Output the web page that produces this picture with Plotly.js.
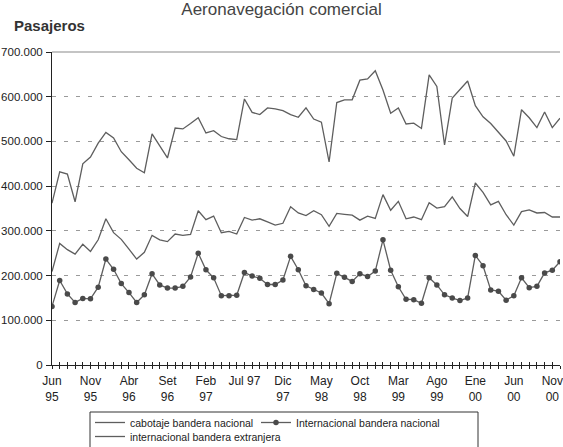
<!DOCTYPE html>
<html>
<head>
<meta charset="utf-8">
<script src="https://cdn.plot.ly/plotly-3.0.1.min.js"></script>
<style>
  html, body { margin: 0; padding: 0; background: #ffffff; }
  #chart { width: 563px; height: 447px; }
</style>
</head>
<body>
<div id="chart"></div>
<script>
// Months Jun 1995 .. Dec 2000 (index 0..66)
const monthNames = ["Ene","Feb","Mar","Abr","May","Jun","Jul","Ago","Set","Oct","Nov","Dic"];
const startMonth = 5;   // Jun
const startYear = 1995;
const nPoints = 67;

// Axis tick labels shown every 5 months
const tickLabels = ["Jun<br>95","Nov<br>95","Abr<br>96","Set<br>96","Feb<br>97","Jul 97","Dic<br>97",
                    "May<br>98","Oct<br>98","Mar<br>99","Ago<br>99","Ene<br>00","Jun<br>00","Nov<br>00"];

// Series (passengers)
const cabotaje = [362000,432000,427000,365000,450000,465000,496000,520000,508000,477000,
                  459000,440000,430000,517000,490000,463000,530000,528000,540000,553000,
                  519000,524000,511000,506000,504000,595000,565000,560000,575000,573000,
                  569000,560000,554000,575000,550000,543000,454000,587000,593000,593000,
                  637000,640000,658000,615000,563000,575000,539000,541000,529000,649000,
                  623000,492000,597000,617000,635000,580000,555000,540000,521000,501000,
                  467000,571000,553000,531000,566000,531000,552000];

const internacionalNacional = [131000,189000,159000,140000,149000,148000,174000,237000,214000,182000,
                  162000,140000,157000,204000,179000,172000,172000,176000,197000,250000,
                  213000,195000,155000,155000,156000,207000,199000,194000,180000,180000,
                  190000,243000,213000,177000,169000,161000,137000,205000,196000,187000,
                  204000,198000,210000,280000,212000,175000,147000,146000,138000,195000,
                  179000,157000,150000,144000,150000,245000,222000,168000,165000,145000,
                  155000,195000,173000,176000,206000,212000,231000];

const internacionalExtranjera = [209000,272000,258000,248000,270000,254000,280000,327000,296000,281000,
                  259000,237000,252000,290000,280000,276000,293000,290000,292000,345000,
                  325000,333000,296000,299000,293000,330000,324000,327000,320000,313000,
                  317000,354000,340000,334000,345000,336000,310000,339000,337000,335000,
                  324000,333000,328000,381000,346000,366000,327000,331000,325000,363000,
                  351000,354000,376000,350000,332000,407000,386000,358000,366000,336000,
                  313000,343000,347000,340000,341000,331000,331000];

const seriesNames = ["cabotaje bandera nacional","Internacional bandera nacional","internacional bandera extranjera"];
const yTicks = [0,100000,200000,300000,400000,500000,600000,700000];

// Build category index and tick arrays
const xIdx = [];
const hoverLabels = [];
for (let i = 0; i < nPoints; i++) {
  xIdx.push(i);
  const m = (startMonth + i) % 12;
  const y = startYear + Math.floor((startMonth + i) / 12);
  hoverLabels.push(monthNames[m] + " " + String(y).slice(2));
}
const tickText = xIdx.map(i => (i % 5 === 0 && i / 5 < tickLabels.length) ? tickLabels[i / 5] : "");

const lineColor = "#5e5e5e";
const sans = "'Liberation Sans', Arial, sans-serif";

// geometry helpers (pixels -> paper) for the legend frame
const W = 563, H = 447, ML = 52, MR = 3, MT = 52, MB = 82;
const PW = W - ML - MR, PH = H - MT - MB;
const px = v => (v - ML) / PW;
const py = v => (H - MB - v) / PH;

const traces = [
  { x: xIdx, y: cabotaje, name: seriesNames[0], type: "scatter", mode: "lines",
    text: hoverLabels, line: { color: lineColor, width: 1.3 }, legend: "legend" },
  { x: xIdx, y: internacionalNacional, name: seriesNames[1], type: "scatter", mode: "lines+markers",
    text: hoverLabels, line: { color: lineColor, width: 1.3 },
    marker: { color: "#4a4a4a", size: 5.5, symbol: "circle" }, legend: "legend2" },
  { x: xIdx, y: internacionalExtranjera, name: seriesNames[2], type: "scatter", mode: "lines",
    text: hoverLabels, line: { color: lineColor, width: 1.3 }, legend: "legend3" },
  { x: [], y: [], xaxis: "x2", yaxis: "y", showlegend: false, hoverinfo: "skip", type: "scatter", mode: "lines" }
];

const legendCommon = {
  orientation: "h", xref: "container", yref: "container",
  xanchor: "left", yanchor: "top",
  borderwidth: 0, bgcolor: "rgba(0,0,0,0)",
  font: { family: sans, size: 10.5, color: "#222" },
  itemwidth: 30, tracegroupgap: 0, traceorder: "normal"
};

const layout = {
  width: W, height: H,
  paper_bgcolor: "#ffffff", plot_bgcolor: "#ffffff",
  separators: ",.",
  margin: { l: ML, r: MR, t: MT, b: MB, autoexpand: false },
  font: { family: sans, color: "#222", size: 12 },
  title: { text: "Aeronavegación comercial", x: 0.5, xanchor: "center",
           yref: "container", y: 1, yanchor: "top", pad: { t: 3, b: 0 },
           font: { family: sans, size: 17, color: "#444" } },
  showlegend: true,
  legend: Object.assign({}, legendCommon, { x: 90 / W, y: 1 - 408 / H }),
  legend2: Object.assign({}, legendCommon, { x: 256 / W, y: 1 - 408 / H }),
  legend3: Object.assign({}, legendCommon, { x: 90 / W, y: 1 - 422 / H }),
  xaxis: {
    range: [0, 66], tickmode: "array", tickvals: xIdx, ticktext: tickText,
    ticks: "outside", ticklen: 3, tickcolor: "#222", tickwidth: 1,
    showline: true, linecolor: "#222", linewidth: 1,
    showgrid: false, zeroline: false, tickangle: 0,
    tickfont: { family: sans, size: 12, color: "#222" },
    ticklabelstandoff: 2
  },
  xaxis2: {
    overlaying: "x", anchor: "y", side: "bottom",
    range: [0, 66], tickmode: "array", tickvals: xIdx,
    ticks: "inside", ticklen: 3, tickcolor: "#222", tickwidth: 1,
    showticklabels: false, showline: false, showgrid: false, zeroline: false
  },
  yaxis: {
    range: [0, 700000], tickmode: "array", tickvals: yTicks,
    tickformat: ",d",
    ticks: "outside", ticklen: 5, tickcolor: "#222",
    showline: true, linecolor: "#222", linewidth: 1,
    showgrid: true, gridcolor: "#9a9a9a", gridwidth: 1, griddash: "4px,8px",
    zeroline: false,
    tickfont: { family: sans, size: 11.5, color: "#222" },
    ticklabelstandoff: 1
  },
  shapes: [
    { type: "line", xref: "paper", yref: "paper", x0: 0, x1: 1, y0: 1, y1: 1,
      line: { color: "#8a8a8a", width: 1.2 } },
    { type: "rect", xref: "paper", yref: "paper",
      x0: px(90), x1: px(478), y0: py(412), y1: py(470),
      line: { color: "#333", width: 1 }, fillcolor: "rgba(0,0,0,0)" }
  ],
  annotations: [
    { text: "<b>Pasajeros</b>", xref: "paper", yref: "paper",
      x: (12 - ML) / PW, xanchor: "left", y: py(25), yanchor: "middle",
      showarrow: false, font: { family: sans, size: 15, color: "#333" } }
  ]
};

Plotly.newPlot("chart", traces, layout, { displayModeBar: false, staticPlot: true });
</script>
</body>
</html>
